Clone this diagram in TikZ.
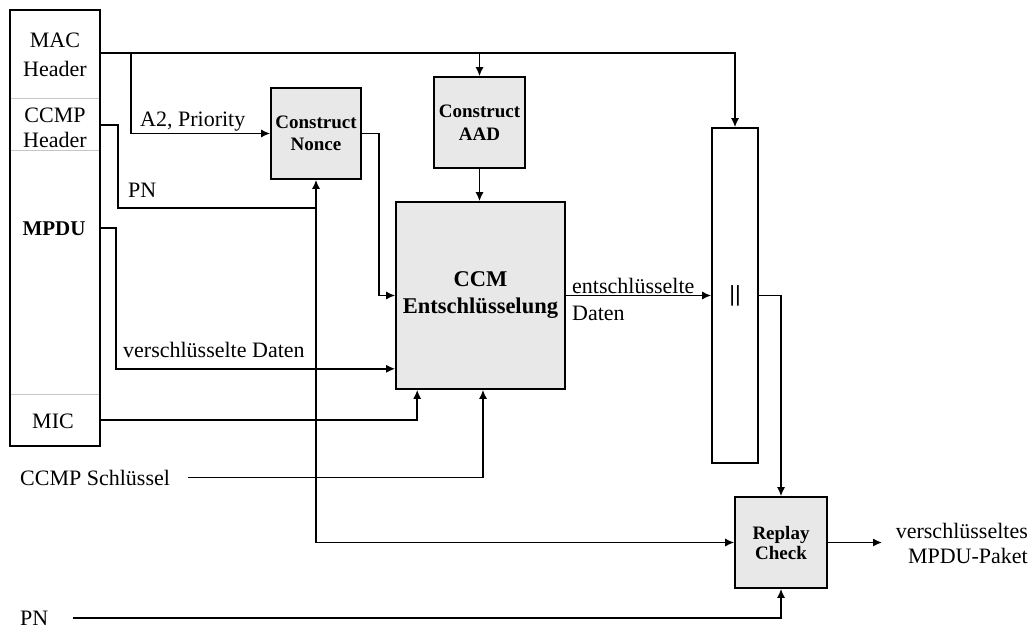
\documentclass[tikz,border=0pt]{standalone}
\usepackage{fontspec}
\setmainfont{Liberation Serif}
\newfontfamily\barfont{Liberation Sans}
\usetikzlibrary{arrows.meta}

\begin{document}
\begin{tikzpicture}[x=1pt,y=-1pt,
  block/.style={draw,line width=1.6pt,fill=gray!18,inner sep=0pt,align=center,
                font=\bfseries\fontsize{19}{22.5}\selectfont},
  frm/.style={draw,line width=1.6pt,inner sep=0pt},
  conn/.style={line width=1.5pt},
  arr/.style={conn,-{Latex[length=9pt,width=8pt]}},
  lbl/.style={inner sep=0pt,font=\fontsize{22}{27}\selectfont},
  divider/.style={gray!45,line width=1pt}
]
\useasboundingbox (0,0) rectangle (1032,628);

% frame fields
\node[frm,minimum width=90pt,minimum height=436pt] (frame) at (55,228) {};
\draw[divider] (10.8,99) -- (99.2,99);
\draw[divider] (10.8,151) -- (99.2,151);
\draw[divider] (10.8,394) -- (99.2,394);
\node[lbl,align=center,font=\fontsize{22}{29}\selectfont] (mac) at (55,55) {MAC\\Header};
\node[lbl,align=center,font=\fontsize{22}{25}\selectfont] (ccmphdr) at (55,128) {CCMP\\Header};
\node[lbl,font=\bfseries\fontsize{21}{25}\selectfont] (mpdu) at (54,229) {MPDU};
\node[lbl] (mic) at (53,421.5) {MIC};

% processing blocks
\node[block,minimum width=90pt,minimum height=91pt] (nonce) at (316,133.5) {Construct\\Nonce};
\node[block,minimum width=91pt,minimum height=91pt] (aad) at (479.5,122.5) {Construct\\AAD};
\node[block,minimum width=169pt,minimum height=187pt,
      font=\bfseries\fontsize{22.5}{27}\selectfont] (ccm) at (480.5,295.5) {CCM\\Entschlüsselung};
\node[frm,minimum width=46pt,minimum height=335pt,
      font=\barfont\fontsize{22}{26}\selectfont] (concat) at (735,295.5) {||};
\node[block,minimum width=92pt,minimum height=91pt,
      font=\bfseries\fontsize{19}{20}\selectfont] (replay) at (781,542.5) {Replay\\Check};

% labels
\node[lbl,anchor=base west] (a2lbl) at (140,127) {A2, Priority};
\node[lbl,anchor=base west] (pnlbl) at (128,198) {PN};
\node[lbl,anchor=base west] (enclbl) at (123,357) {verschlüsselte Daten};
\node[lbl,anchor=west,align=left] (declbl) at (572,299) {entschlüsselte\\Daten};
\node[lbl,anchor=base west] (key) at (20,485) {CCMP Schlüssel};
\node[lbl,anchor=base west] (pnin) at (20,625) {PN};
\node[lbl,anchor=east,align=right,font=\fontsize{22}{25}\selectfont] (out) at (1028,543) {verschlüsseltes\\MPDU-Paket};

% ports on the frame
\coordinate (pMAC) at (100,53);
\coordinate (pCCMP) at (100,125);
\coordinate (pMPDU) at (100,228);
\coordinate (pMIC) at (100,420);
\coordinate (jA2) at (131,53);
\coordinate (pnbend) at (118,208);
\coordinate (outend) at (882,542.5);

% header paths
\draw[arr] (pMAC) -| (concat.north);
\draw[arr] (pMAC -| aad.north) -- (aad.north);
\draw[arr] (jA2) |- (nonce.west);

% packet number
\draw[conn] (pCCMP) -| (pnbend) -- (pnbend -| nonce.south);
\draw[arr] (pnbend -| nonce.south) -- (nonce.south);
\draw[arr] (pnbend -| nonce.south) |- (replay.west);

% inputs of the CCM block
\draw[arr] (nonce.east) -- ++(17,0) |- (ccm.west);
\draw[arr] (aad.south) -- (aad.south |- ccm.north);
\draw[arr] (pMPDU) -- ++(16,0) |- ([yshift=21pt]ccm.south west);
\draw[arr] (pMIC) -| ([xshift=22pt]ccm.south west);
\draw[arr] ([xshift=18pt]key.east) -| ([xshift=2.5pt]ccm.south);

% outputs
\draw[arr] (ccm.east) -- (concat.west);
\draw[arr] (concat.east) -| (replay.north);
\draw[arr] ([xshift=24pt]pnin.east) -| (replay.south);
\draw[arr] (replay.east) -- (outend);
\end{tikzpicture}
\end{document}
